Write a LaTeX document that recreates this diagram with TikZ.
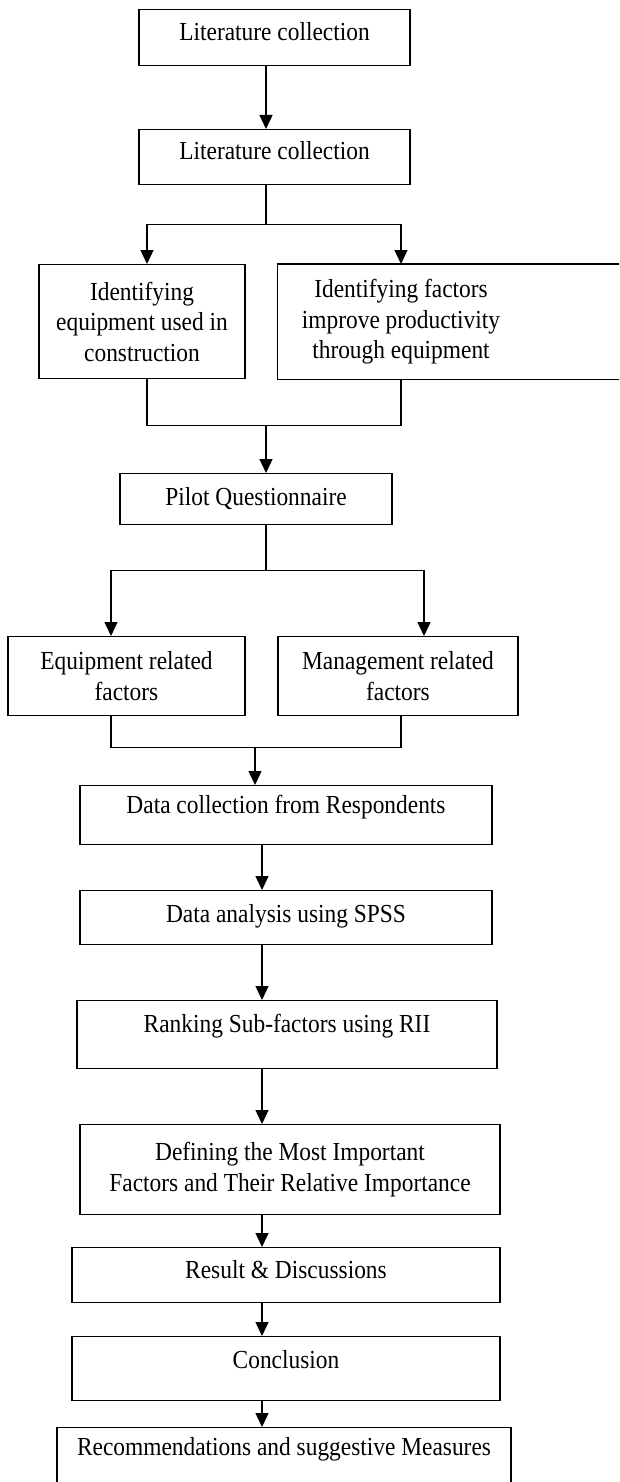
\documentclass[tikz,border=0pt]{standalone}
\usepackage{fontspec}
\setmainfont{Liberation Serif}[FakeStretch=0.9]
\usetikzlibrary{arrows.meta}
\newcommand{\boxfont}{\fontsize{26}{30.5}\selectfont}
\tikzset{
  box/.style={draw, line width=1.4pt, inner sep=0pt, anchor=north, align=center, font=\boxfont},
  conn/.style={line width=1.4pt},
  arr/.style={conn, -{Triangle[length=14pt, width=13pt]}},
}

\begin{document}
\begin{tikzpicture}[x=1pt, y=1pt]
  \useasboundingbox (0,0) rectangle (619,-1482);
  \clip (0,0) rectangle (619,-1482);
  % spines of the flow
  \coordinate (up) at (266,0);
  \coordinate (low) at (262,0);
  \coordinate (jn) at (255,0);

  \node[box, minimum width=271pt, text height=31pt, text depth=25pt] (lit1) at (274.5,-9) {Literature collection};
  \node[box, minimum width=271pt, text height=30pt, text depth=25pt] (lit2) at (274.5,-129) {Literature collection};
  \node[box, minimum width=206pt, minimum height=114pt] (ideq) at (142,-264)
    {Identifying\\equipment used in\\construction};
  \node[box, draw=none, minimum width=246pt, minimum height=114pt] (idfac) at (401,-264)
    {Identifying factors\\improve productivity\\through equipment};
  \draw[conn] (idfac.north west) rectangle ([xshift=120pt]idfac.south east);
  \node[box, minimum width=272pt, text height=32pt, text depth=19pt] (pilot) at (256,-473) {Pilot Questionnaire};
  \node[box, minimum width=237pt, minimum height=79pt] (eqf) at (126.5,-636) {Equipment related\\factors};
  \node[box, minimum width=240pt, minimum height=79pt] (mgf) at (398,-636) {Management related\\factors};
  \node[box, minimum width=412pt, text height=28pt, text depth=31pt] (dcol) at (286,-785) {Data collection from Respondents};
  \node[box, minimum width=412pt, text height=32pt, text depth=22pt] (dana) at (286,-890) {Data analysis using SPSS};
  \node[box, minimum width=420pt, text height=32pt, text depth=36pt] (rank) at (287,-1000) {Ranking Sub-factors using RII};
  \node[box, minimum width=420pt, minimum height=90pt] (def) at (290,-1124)
    {Defining the Most Important\\Factors and Their Relative Importance};
  \node[box, minimum width=428pt, text height=31pt, text depth=24pt] (res) at (286,-1247) {Result \& Discussions};
  \node[box, minimum width=428pt, text height=32pt, text depth=32pt] (conc) at (286,-1336) {Conclusion};
  \node[box, minimum width=454pt, text height=28pt, text depth=50pt] (rec) at (284,-1427) {Recommendations and suggestive Measures};

  % upper part
  \draw[arr] (lit1.south -| up) -- (lit2.north -| up);
  \draw[conn] (lit2.south -| up) -- ++(0,-39) coordinate (split1);
  \draw[arr] (split1) -| ([xshift=5pt]ideq.north);
  \draw[arr] (split1) -| (idfac.north);
  \draw[conn] ([xshift=5pt]ideq.south) -- ++(0,-46) coordinate (m1) -| (idfac.south);
  \draw[arr] (m1 -| up) -- (pilot.north -| up);
  \draw[conn] (pilot.south -| up) -- ++(0,-45) coordinate (split2);
  \draw[arr] (split2) -| ([xshift=-15.5pt]eqf.north);
  \draw[arr] (split2) -| ([xshift=26pt]mgf.north);
  \draw[conn] ([xshift=-15.5pt]eqf.south) -- ++(0,-31) coordinate (m2) -| ([xshift=3pt]mgf.south);
  \draw[arr] (m2 -| jn) -- (dcol.north -| jn);

  % lower part
  \foreach \a/\b in {dcol/dana, dana/rank, rank/def, def/res, res/conc, conc/rec}
    \draw[arr] (\a.south -| low) -- (\b.north -| low);
\end{tikzpicture}
\end{document}
